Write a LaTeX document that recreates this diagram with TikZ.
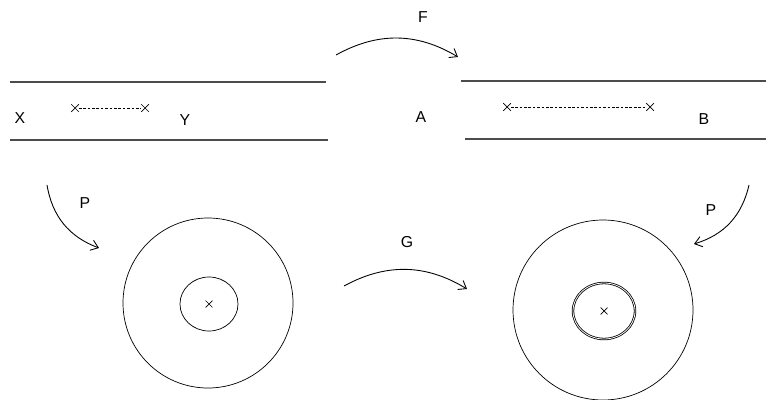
\documentclass[tikz,border=0pt]{standalone}
\usepackage{fontspec}
\setmainfont{Liberation Sans}
\usetikzlibrary{positioning}
\usetikzlibrary{shapes.misc}
\usetikzlibrary{arrows.meta}
\tikzset{
    strip/.style={line width=0.6pt, gray!60!black},
    xmark/.style={cross out, draw, inner sep=0pt, minimum size=4pt, line width=0.4pt},
    maparrow/.style={-{Straight Barb[length=4pt, width=6pt]}, line width=0.5pt},
    lbl/.style={font=\small}
}
\begin{document}
\begin{tikzpicture}[x=0.02cm, y=-0.02cm]
    \useasboundingbox (0,0) rectangle (766,399);

    % Left strip
    \draw[strip] (10,82) -- (326,82);
    \draw[strip] (10,140) -- (328,140);
    \node[lbl] (X) at (20,118) {X};
    \node[lbl] (Y) at (185,120) {Y};
    \node[xmark] (l1) at (75,108) {};
    \node[xmark] (l2) at (145,108) {};
    \draw[dashed, line width=0.4pt, dash pattern=on 1.5pt off 1pt] (l1) -- (l2);

    % Right strip
    \draw[strip] (461,81) -- (766,81);
    \draw[strip] (465,139) -- (766,139);
    \node[lbl] (A) at (421,117) {A};
    \node[lbl] (B) at (704,119) {B};
    \node[xmark] (r1) at (507,107) {};
    \node[xmark] (r2) at (650,107) {};
    \draw[dashed, line width=0.4pt, dash pattern=on 1.5pt off 1pt] (r1) -- (r2);

    % Left disc
    \node[circle, draw, minimum size=170*0.02cm] (D1) at (208,303) {};
    \draw (209,304) ellipse (29 and 27);
    \node[xmark, minimum size=3.5pt] (c1) at (209,304) {};

    % Right disc
    \node[circle, draw, minimum size=180*0.02cm] (D2) at (603,310) {};
    \draw[double, double distance=0.45pt, line width=0.45pt] (604,311) ellipse (31 and 28);
    \node[xmark, minimum size=3.5pt] (c2) at (604,311) {};

    % Maps
    \coordinate (F1) at (336,55);
    \coordinate (F2) at (458,57);
    \draw[maparrow] (F1) to[bend left=30] (F2);
    \node[lbl] (F) at (423,17) {F};

    \coordinate (G1) at (344,286);
    \coordinate (G2) at (467,289);
    \draw[maparrow] (G1) to[bend left=30] (G2);
    \node[lbl] (G) at (407,242) {G};

    \coordinate (P1) at (47,185);
    \coordinate (P2) at (99,248);
    \draw[maparrow] (P1) to[bend right=30] (P2);
    \node[lbl] (Pl) at (85,203) {P};

    \coordinate (Q1) at (749,185);
    \coordinate (Q2) at (694,244);
    \draw[maparrow] (Q1) to[bend left=30] (Q2);
    \node[lbl] (Pr) at (711,210) {P};
\end{tikzpicture}
\end{document}
